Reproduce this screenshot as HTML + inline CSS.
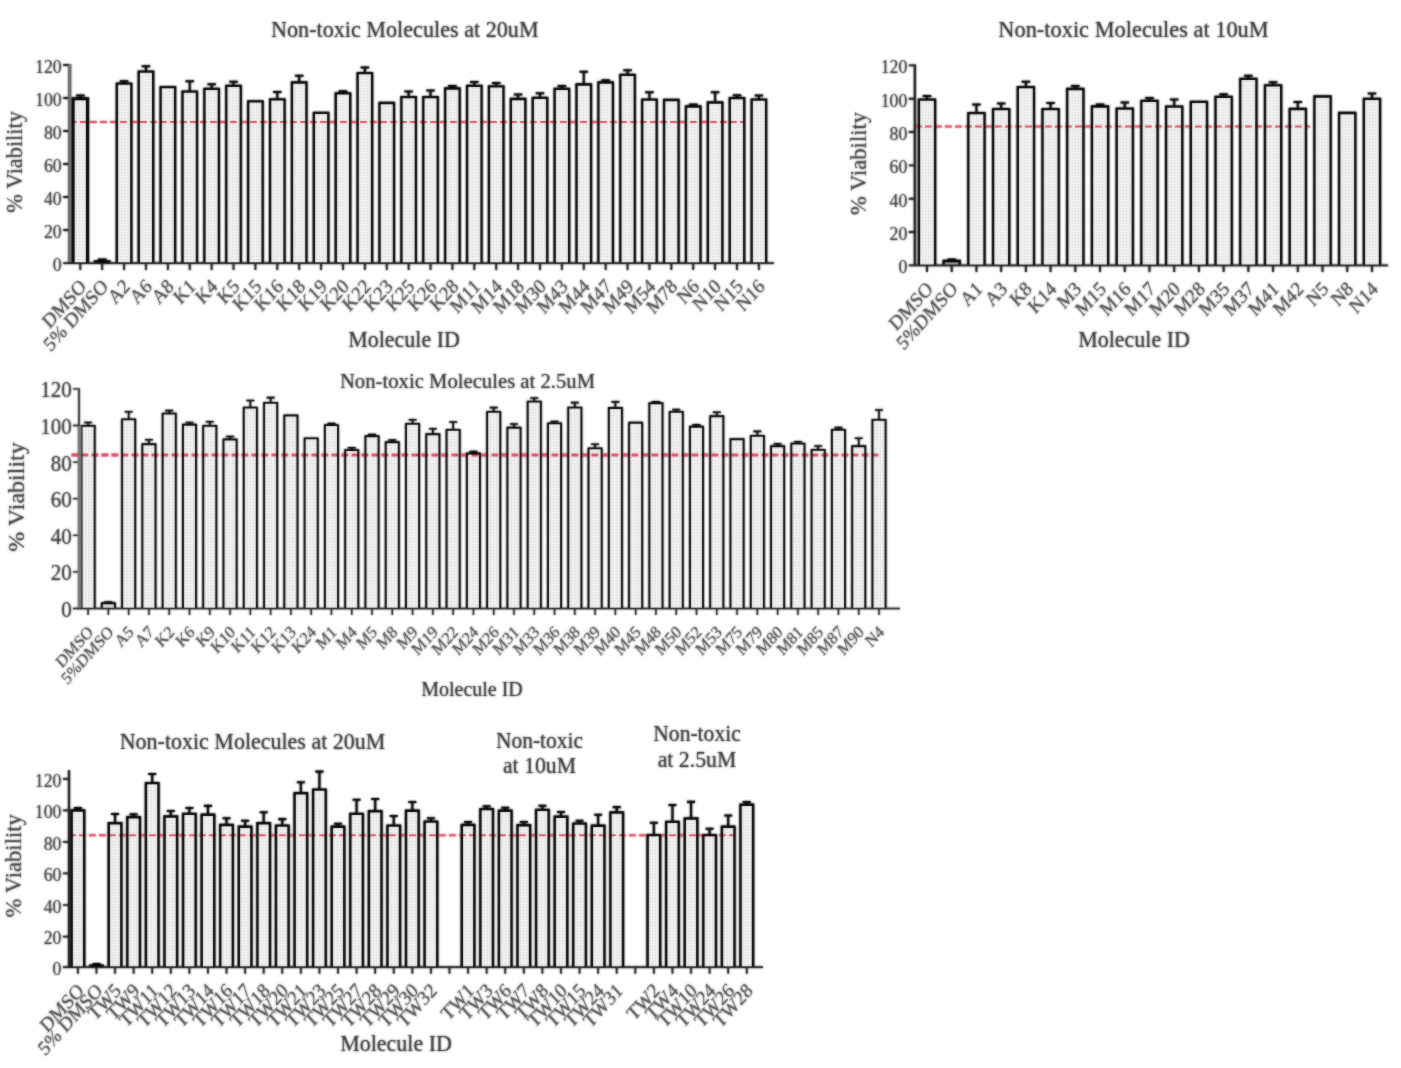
<!DOCTYPE html>
<html><head><meta charset="utf-8"><title>Non-toxic Molecules - % Viability</title>
<style>
html,body{margin:0;padding:0;background:#fff;}
body{width:1401px;height:1068px;overflow:hidden;}
svg{display:block;font-family:"Liberation Serif",serif;fill:#424242;}
</style></head><body>
<svg width="1401" height="1068" viewBox="0 0 1401 1068">
<defs>
<pattern id="dots" width="3" height="3" patternUnits="userSpaceOnUse">
<rect width="3" height="3" fill="#f1f1f1"/><rect x="1" y="1" width="1" height="1" fill="#cfcfcf"/>
</pattern>
</defs>
<rect width="1401" height="1068" fill="#fff"/>
<use href="#c" style="filter:blur(0.8px)"/>
<g opacity="0.6"><g id="c">
<g>
<path d="M80.3 98.8V95.6M76.05 95.6H84.55" stroke="#000" stroke-width="2" fill="none"/>
<path d="M73.1 263.1V98.8H87.5V263.1" fill="url(#dots)"/>
<path d="M102.19 261.3V259.5M97.94 259.5H106.44" stroke="#000" stroke-width="2" fill="none"/>
<path d="M94.99 263.1V261.3H109.39V263.1" fill="#111"/>
<path d="M124.08 83.7V81.2M119.83 81.2H128.33" stroke="#000" stroke-width="2" fill="none"/>
<path d="M116.88 263.1V83.7H131.28V263.1" fill="url(#dots)"/>
<path d="M145.97 71.7V66.3M141.72 66.3H150.22" stroke="#000" stroke-width="2" fill="none"/>
<path d="M138.77 263.1V71.7H153.17V263.1" fill="url(#dots)"/>
<path d="M160.66 263.1V87.1H175.06V263.1" fill="url(#dots)"/>
<path d="M189.75 91.6V81.2M185.5 81.2H194" stroke="#000" stroke-width="2" fill="none"/>
<path d="M182.55 263.1V91.6H196.95V263.1" fill="url(#dots)"/>
<path d="M211.64 88.8V84.3M207.39 84.3H215.89" stroke="#000" stroke-width="2" fill="none"/>
<path d="M204.44 263.1V88.8H218.84V263.1" fill="url(#dots)"/>
<path d="M233.53 85.9V81.7M229.28 81.7H237.78" stroke="#000" stroke-width="2" fill="none"/>
<path d="M226.33 263.1V85.9H240.73V263.1" fill="url(#dots)"/>
<path d="M248.22 263.1V101.3H262.62V263.1" fill="url(#dots)"/>
<path d="M277.31 99.3V92M273.06 92H281.56" stroke="#000" stroke-width="2" fill="none"/>
<path d="M270.11 263.1V99.3H284.51V263.1" fill="url(#dots)"/>
<path d="M299.2 82.5V75.8M294.95 75.8H303.45" stroke="#000" stroke-width="2" fill="none"/>
<path d="M292 263.1V82.5H306.4V263.1" fill="url(#dots)"/>
<path d="M313.89 263.1V112.8H328.29V263.1" fill="url(#dots)"/>
<path d="M342.98 93.3V91.3M338.73 91.3H347.23" stroke="#000" stroke-width="2" fill="none"/>
<path d="M335.78 263.1V93.3H350.18V263.1" fill="url(#dots)"/>
<path d="M364.87 73.1V67.6M360.62 67.6H369.12" stroke="#000" stroke-width="2" fill="none"/>
<path d="M357.67 263.1V73.1H372.07V263.1" fill="url(#dots)"/>
<path d="M379.56 263.1V103H393.96V263.1" fill="url(#dots)"/>
<path d="M408.65 97.1V91.6M404.4 91.6H412.9" stroke="#000" stroke-width="2" fill="none"/>
<path d="M401.45 263.1V97.1H415.85V263.1" fill="url(#dots)"/>
<path d="M430.54 97.1V90.6M426.29 90.6H434.79" stroke="#000" stroke-width="2" fill="none"/>
<path d="M423.34 263.1V97.1H437.74V263.1" fill="url(#dots)"/>
<path d="M452.43 88.5V85.9M448.18 85.9H456.68" stroke="#000" stroke-width="2" fill="none"/>
<path d="M445.23 263.1V88.5H459.63V263.1" fill="url(#dots)"/>
<path d="M474.32 85.9V82M470.07 82H478.57" stroke="#000" stroke-width="2" fill="none"/>
<path d="M467.12 263.1V85.9H481.52V263.1" fill="url(#dots)"/>
<path d="M496.21 86.3V82.9M491.96 82.9H500.46" stroke="#000" stroke-width="2" fill="none"/>
<path d="M489.01 263.1V86.3H503.41V263.1" fill="url(#dots)"/>
<path d="M518.1 99V94.5M513.85 94.5H522.35" stroke="#000" stroke-width="2" fill="none"/>
<path d="M510.9 263.1V99H525.3V263.1" fill="url(#dots)"/>
<path d="M539.99 97.9V93.2M535.74 93.2H544.24" stroke="#000" stroke-width="2" fill="none"/>
<path d="M532.79 263.1V97.9H547.19V263.1" fill="url(#dots)"/>
<path d="M561.88 88.8V86M557.63 86H566.13" stroke="#000" stroke-width="2" fill="none"/>
<path d="M554.68 263.1V88.8H569.08V263.1" fill="url(#dots)"/>
<path d="M583.77 84.5V71.8M579.52 71.8H588.02" stroke="#000" stroke-width="2" fill="none"/>
<path d="M576.57 263.1V84.5H590.97V263.1" fill="url(#dots)"/>
<path d="M605.66 82.5V80.2M601.41 80.2H609.91" stroke="#000" stroke-width="2" fill="none"/>
<path d="M598.46 263.1V82.5H612.86V263.1" fill="url(#dots)"/>
<path d="M627.55 74.8V70.2M623.3 70.2H631.8" stroke="#000" stroke-width="2" fill="none"/>
<path d="M620.35 263.1V74.8H634.75V263.1" fill="url(#dots)"/>
<path d="M649.44 99.6V92.3M645.19 92.3H653.69" stroke="#000" stroke-width="2" fill="none"/>
<path d="M642.24 263.1V99.6H656.64V263.1" fill="url(#dots)"/>
<path d="M664.13 263.1V100H678.53V263.1" fill="url(#dots)"/>
<path d="M693.22 106.5V104.5M688.97 104.5H697.47" stroke="#000" stroke-width="2" fill="none"/>
<path d="M686.02 263.1V106.5H700.42V263.1" fill="url(#dots)"/>
<path d="M715.11 102.5V92.3M710.86 92.3H719.36" stroke="#000" stroke-width="2" fill="none"/>
<path d="M707.91 263.1V102.5H722.31V263.1" fill="url(#dots)"/>
<path d="M737 98.1V95.3M732.75 95.3H741.25" stroke="#000" stroke-width="2" fill="none"/>
<path d="M729.8 263.1V98.1H744.2V263.1" fill="url(#dots)"/>
<path d="M758.89 99.6V95.4M754.64 95.4H763.14" stroke="#000" stroke-width="2" fill="none"/>
<path d="M751.69 263.1V99.6H766.09V263.1" fill="url(#dots)"/>
<line x1="70" x2="743" y1="122" y2="122" stroke="#e23c55" stroke-opacity="0.92" stroke-width="1.9" stroke-dasharray="6.8 3.2"/>
<path d="M73.1 263.1V98.8H87.5V263.1" fill="none" stroke="#000" stroke-width="3.1"/>
<path d="M94.99 263.1V261.3H109.39V263.1" fill="none" stroke="#000" stroke-width="2.3"/>
<path d="M116.88 263.1V83.7H131.28V263.1" fill="none" stroke="#000" stroke-width="2.3"/>
<path d="M138.77 263.1V71.7H153.17V263.1" fill="none" stroke="#000" stroke-width="2.3"/>
<path d="M160.66 263.1V87.1H175.06V263.1" fill="none" stroke="#000" stroke-width="2.3"/>
<path d="M182.55 263.1V91.6H196.95V263.1" fill="none" stroke="#000" stroke-width="2.3"/>
<path d="M204.44 263.1V88.8H218.84V263.1" fill="none" stroke="#000" stroke-width="2.3"/>
<path d="M226.33 263.1V85.9H240.73V263.1" fill="none" stroke="#000" stroke-width="2.3"/>
<path d="M248.22 263.1V101.3H262.62V263.1" fill="none" stroke="#000" stroke-width="2.3"/>
<path d="M270.11 263.1V99.3H284.51V263.1" fill="none" stroke="#000" stroke-width="2.3"/>
<path d="M292 263.1V82.5H306.4V263.1" fill="none" stroke="#000" stroke-width="2.3"/>
<path d="M313.89 263.1V112.8H328.29V263.1" fill="none" stroke="#000" stroke-width="2.3"/>
<path d="M335.78 263.1V93.3H350.18V263.1" fill="none" stroke="#000" stroke-width="2.3"/>
<path d="M357.67 263.1V73.1H372.07V263.1" fill="none" stroke="#000" stroke-width="2.3"/>
<path d="M379.56 263.1V103H393.96V263.1" fill="none" stroke="#000" stroke-width="2.3"/>
<path d="M401.45 263.1V97.1H415.85V263.1" fill="none" stroke="#000" stroke-width="2.3"/>
<path d="M423.34 263.1V97.1H437.74V263.1" fill="none" stroke="#000" stroke-width="2.3"/>
<path d="M445.23 263.1V88.5H459.63V263.1" fill="none" stroke="#000" stroke-width="2.3"/>
<path d="M467.12 263.1V85.9H481.52V263.1" fill="none" stroke="#000" stroke-width="2.3"/>
<path d="M489.01 263.1V86.3H503.41V263.1" fill="none" stroke="#000" stroke-width="2.3"/>
<path d="M510.9 263.1V99H525.3V263.1" fill="none" stroke="#000" stroke-width="2.3"/>
<path d="M532.79 263.1V97.9H547.19V263.1" fill="none" stroke="#000" stroke-width="2.3"/>
<path d="M554.68 263.1V88.8H569.08V263.1" fill="none" stroke="#000" stroke-width="2.3"/>
<path d="M576.57 263.1V84.5H590.97V263.1" fill="none" stroke="#000" stroke-width="2.3"/>
<path d="M598.46 263.1V82.5H612.86V263.1" fill="none" stroke="#000" stroke-width="2.3"/>
<path d="M620.35 263.1V74.8H634.75V263.1" fill="none" stroke="#000" stroke-width="2.3"/>
<path d="M642.24 263.1V99.6H656.64V263.1" fill="none" stroke="#000" stroke-width="2.3"/>
<path d="M664.13 263.1V100H678.53V263.1" fill="none" stroke="#000" stroke-width="2.3"/>
<path d="M686.02 263.1V106.5H700.42V263.1" fill="none" stroke="#000" stroke-width="2.3"/>
<path d="M707.91 263.1V102.5H722.31V263.1" fill="none" stroke="#000" stroke-width="2.3"/>
<path d="M729.8 263.1V98.1H744.2V263.1" fill="none" stroke="#000" stroke-width="2.3"/>
<path d="M751.69 263.1V99.6H766.09V263.1" fill="none" stroke="#000" stroke-width="2.3"/>
<path d="M69.65 64.1V263.1" stroke="#6b6b6b" stroke-width="3.3" fill="none"/>
<path d="M63.25 230.1H68.2M63.25 197.1H68.2M63.25 164.1H68.2M63.25 131.1H68.2M63.25 98.1H68.2M63.25 65.1H68.2" stroke="#1c1c1c" stroke-width="2" fill="none"/>
<path d="M63.25 263.1H774" stroke="#1c1c1c" stroke-width="1.8" fill="none"/>
<path d="M80.3 263.1v6.9M102.19 263.1v6.9M124.08 263.1v6.9M145.97 263.1v6.9M167.86 263.1v6.9M189.75 263.1v6.9M211.64 263.1v6.9M233.53 263.1v6.9M255.42 263.1v6.9M277.31 263.1v6.9M299.2 263.1v6.9M321.09 263.1v6.9M342.98 263.1v6.9M364.87 263.1v6.9M386.76 263.1v6.9M408.65 263.1v6.9M430.54 263.1v6.9M452.43 263.1v6.9M474.32 263.1v6.9M496.21 263.1v6.9M518.1 263.1v6.9M539.99 263.1v6.9M561.88 263.1v6.9M583.77 263.1v6.9M605.66 263.1v6.9M627.55 263.1v6.9M649.44 263.1v6.9M671.33 263.1v6.9M693.22 263.1v6.9M715.11 263.1v6.9M737 263.1v6.9M758.89 263.1v6.9" stroke="#1c1c1c" stroke-width="1.8" fill="none"/>
<text transform="translate(61.65 270.9) scale(0.9 1)" font-size="19.7" text-anchor="end">0</text>
<text transform="translate(61.65 237.9) scale(0.9 1)" font-size="19.7" text-anchor="end">20</text>
<text transform="translate(61.65 204.9) scale(0.9 1)" font-size="19.7" text-anchor="end">40</text>
<text transform="translate(61.65 171.9) scale(0.9 1)" font-size="19.7" text-anchor="end">60</text>
<text transform="translate(61.65 138.9) scale(0.9 1)" font-size="19.7" text-anchor="end">80</text>
<text transform="translate(61.65 105.9) scale(0.9 1)" font-size="19.7" text-anchor="end">100</text>
<text transform="translate(61.65 72.9) scale(0.9 1)" font-size="19.7" text-anchor="end">120</text>
<text transform="translate(87.3 287.6) scale(0.9 1) rotate(-45)" font-size="20.5" text-anchor="end" fill="#4e4e4e">DMSO</text>
<text transform="translate(109.19 287.6) scale(0.9 1) rotate(-45)" font-size="20.5" text-anchor="end" fill="#4e4e4e">5% DMSO</text>
<text transform="translate(131.08 287.6) scale(0.9 1) rotate(-45)" font-size="20.5" text-anchor="end" fill="#4e4e4e">A2</text>
<text transform="translate(152.97 287.6) scale(0.9 1) rotate(-45)" font-size="20.5" text-anchor="end" fill="#4e4e4e">A6</text>
<text transform="translate(174.86 287.6) scale(0.9 1) rotate(-45)" font-size="20.5" text-anchor="end" fill="#4e4e4e">A8</text>
<text transform="translate(196.75 287.6) scale(0.9 1) rotate(-45)" font-size="20.5" text-anchor="end" fill="#4e4e4e">K1</text>
<text transform="translate(218.64 287.6) scale(0.9 1) rotate(-45)" font-size="20.5" text-anchor="end" fill="#4e4e4e">K4</text>
<text transform="translate(240.53 287.6) scale(0.9 1) rotate(-45)" font-size="20.5" text-anchor="end" fill="#4e4e4e">K5</text>
<text transform="translate(262.42 287.6) scale(0.9 1) rotate(-45)" font-size="20.5" text-anchor="end" fill="#4e4e4e">K15</text>
<text transform="translate(284.31 287.6) scale(0.9 1) rotate(-45)" font-size="20.5" text-anchor="end" fill="#4e4e4e">K16</text>
<text transform="translate(306.2 287.6) scale(0.9 1) rotate(-45)" font-size="20.5" text-anchor="end" fill="#4e4e4e">K18</text>
<text transform="translate(328.09 287.6) scale(0.9 1) rotate(-45)" font-size="20.5" text-anchor="end" fill="#4e4e4e">K19</text>
<text transform="translate(349.98 287.6) scale(0.9 1) rotate(-45)" font-size="20.5" text-anchor="end" fill="#4e4e4e">K20</text>
<text transform="translate(371.87 287.6) scale(0.9 1) rotate(-45)" font-size="20.5" text-anchor="end" fill="#4e4e4e">K22</text>
<text transform="translate(393.76 287.6) scale(0.9 1) rotate(-45)" font-size="20.5" text-anchor="end" fill="#4e4e4e">K23</text>
<text transform="translate(415.65 287.6) scale(0.9 1) rotate(-45)" font-size="20.5" text-anchor="end" fill="#4e4e4e">K25</text>
<text transform="translate(437.54 287.6) scale(0.9 1) rotate(-45)" font-size="20.5" text-anchor="end" fill="#4e4e4e">K26</text>
<text transform="translate(459.43 287.6) scale(0.9 1) rotate(-45)" font-size="20.5" text-anchor="end" fill="#4e4e4e">K28</text>
<text transform="translate(481.32 287.6) scale(0.9 1) rotate(-45)" font-size="20.5" text-anchor="end" fill="#4e4e4e">M11</text>
<text transform="translate(503.21 287.6) scale(0.9 1) rotate(-45)" font-size="20.5" text-anchor="end" fill="#4e4e4e">M14</text>
<text transform="translate(525.1 287.6) scale(0.9 1) rotate(-45)" font-size="20.5" text-anchor="end" fill="#4e4e4e">M18</text>
<text transform="translate(546.99 287.6) scale(0.9 1) rotate(-45)" font-size="20.5" text-anchor="end" fill="#4e4e4e">M30</text>
<text transform="translate(568.88 287.6) scale(0.9 1) rotate(-45)" font-size="20.5" text-anchor="end" fill="#4e4e4e">M43</text>
<text transform="translate(590.77 287.6) scale(0.9 1) rotate(-45)" font-size="20.5" text-anchor="end" fill="#4e4e4e">M44</text>
<text transform="translate(612.66 287.6) scale(0.9 1) rotate(-45)" font-size="20.5" text-anchor="end" fill="#4e4e4e">M47</text>
<text transform="translate(634.55 287.6) scale(0.9 1) rotate(-45)" font-size="20.5" text-anchor="end" fill="#4e4e4e">M49</text>
<text transform="translate(656.44 287.6) scale(0.9 1) rotate(-45)" font-size="20.5" text-anchor="end" fill="#4e4e4e">M54</text>
<text transform="translate(678.33 287.6) scale(0.9 1) rotate(-45)" font-size="20.5" text-anchor="end" fill="#4e4e4e">M78</text>
<text transform="translate(700.22 287.6) scale(0.9 1) rotate(-45)" font-size="20.5" text-anchor="end" fill="#4e4e4e">N6</text>
<text transform="translate(722.11 287.6) scale(0.9 1) rotate(-45)" font-size="20.5" text-anchor="end" fill="#4e4e4e">N10</text>
<text transform="translate(744 287.6) scale(0.9 1) rotate(-45)" font-size="20.5" text-anchor="end" fill="#4e4e4e">N15</text>
<text transform="translate(765.89 287.6) scale(0.9 1) rotate(-45)" font-size="20.5" text-anchor="end" fill="#4e4e4e">N16</text>
<text transform="translate(22 162) rotate(-90)" font-size="22.3" text-anchor="middle">% Viability</text>
<text transform="translate(404 347.3) scale(0.97 1)" font-size="22.68" text-anchor="middle" fill="#383838">Molecule ID</text>
<text transform="translate(404.8 36.5) scale(0.97 1)" font-size="22.84" text-anchor="middle" fill="#383838">Non-toxic Molecules at 20uM</text>
</g>
<g>
<path d="M927 99.7V96M922.75 96H931.25" stroke="#000" stroke-width="2" fill="none"/>
<path d="M918.95 265.4V99.7H935.05V265.4" fill="url(#dots)"/>
<path d="M951.72 261V259.5M947.47 259.5H955.97" stroke="#000" stroke-width="2" fill="none"/>
<path d="M943.67 265.4V261H959.77V265.4" fill="#9a9a9a"/>
<path d="M976.44 113.1V104.5M972.19 104.5H980.69" stroke="#000" stroke-width="2" fill="none"/>
<path d="M968.39 265.4V113.1H984.49V265.4" fill="url(#dots)"/>
<path d="M1001.16 109.1V103.5M996.91 103.5H1005.41" stroke="#000" stroke-width="2" fill="none"/>
<path d="M993.11 265.4V109.1H1009.21V265.4" fill="url(#dots)"/>
<path d="M1025.88 87.1V81.7M1021.63 81.7H1030.13" stroke="#000" stroke-width="2" fill="none"/>
<path d="M1017.83 265.4V87.1H1033.93V265.4" fill="url(#dots)"/>
<path d="M1050.6 109.1V102.9M1046.35 102.9H1054.85" stroke="#000" stroke-width="2" fill="none"/>
<path d="M1042.55 265.4V109.1H1058.65V265.4" fill="url(#dots)"/>
<path d="M1075.32 89V86M1071.07 86H1079.57" stroke="#000" stroke-width="2" fill="none"/>
<path d="M1067.27 265.4V89H1083.37V265.4" fill="url(#dots)"/>
<path d="M1100.04 106.5V104.5M1095.79 104.5H1104.29" stroke="#000" stroke-width="2" fill="none"/>
<path d="M1091.99 265.4V106.5H1108.09V265.4" fill="url(#dots)"/>
<path d="M1124.76 108.6V102.6M1120.51 102.6H1129.01" stroke="#000" stroke-width="2" fill="none"/>
<path d="M1116.71 265.4V108.6H1132.81V265.4" fill="url(#dots)"/>
<path d="M1149.48 100.9V98.1M1145.23 98.1H1153.73" stroke="#000" stroke-width="2" fill="none"/>
<path d="M1141.43 265.4V100.9H1157.53V265.4" fill="url(#dots)"/>
<path d="M1174.2 106.6V99.5M1169.95 99.5H1178.45" stroke="#000" stroke-width="2" fill="none"/>
<path d="M1166.15 265.4V106.6H1182.25V265.4" fill="url(#dots)"/>
<path d="M1190.87 265.4V101.9H1206.97V265.4" fill="url(#dots)"/>
<path d="M1223.64 96.9V94.3M1219.39 94.3H1227.89" stroke="#000" stroke-width="2" fill="none"/>
<path d="M1215.59 265.4V96.9H1231.69V265.4" fill="url(#dots)"/>
<path d="M1248.36 78.9V75.7M1244.11 75.7H1252.61" stroke="#000" stroke-width="2" fill="none"/>
<path d="M1240.31 265.4V78.9H1256.41V265.4" fill="url(#dots)"/>
<path d="M1273.08 85.3V82.3M1268.83 82.3H1277.33" stroke="#000" stroke-width="2" fill="none"/>
<path d="M1265.03 265.4V85.3H1281.13V265.4" fill="url(#dots)"/>
<path d="M1297.8 109V102.1M1293.55 102.1H1302.05" stroke="#000" stroke-width="2" fill="none"/>
<path d="M1289.75 265.4V109H1305.85V265.4" fill="url(#dots)"/>
<path d="M1314.47 265.4V96.5H1330.57V265.4" fill="url(#dots)"/>
<path d="M1339.19 265.4V113H1355.29V265.4" fill="url(#dots)"/>
<path d="M1371.96 98.9V93.5M1367.71 93.5H1376.21" stroke="#000" stroke-width="2" fill="none"/>
<path d="M1363.91 265.4V98.9H1380.01V265.4" fill="url(#dots)"/>
<line x1="915" x2="1310" y1="126.5" y2="126.5" stroke="#e23c55" stroke-opacity="0.92" stroke-width="1.9" stroke-dasharray="6.8 3.2"/>
<path d="M918.95 265.4V99.7H935.05V265.4" fill="none" stroke="#000" stroke-width="2.3"/>
<path d="M943.67 265.4V261H959.77V265.4" fill="none" stroke="#000" stroke-width="2.3"/>
<path d="M968.39 265.4V113.1H984.49V265.4" fill="none" stroke="#000" stroke-width="2.3"/>
<path d="M993.11 265.4V109.1H1009.21V265.4" fill="none" stroke="#000" stroke-width="2.3"/>
<path d="M1017.83 265.4V87.1H1033.93V265.4" fill="none" stroke="#000" stroke-width="2.3"/>
<path d="M1042.55 265.4V109.1H1058.65V265.4" fill="none" stroke="#000" stroke-width="2.3"/>
<path d="M1067.27 265.4V89H1083.37V265.4" fill="none" stroke="#000" stroke-width="2.3"/>
<path d="M1091.99 265.4V106.5H1108.09V265.4" fill="none" stroke="#000" stroke-width="2.3"/>
<path d="M1116.71 265.4V108.6H1132.81V265.4" fill="none" stroke="#000" stroke-width="2.3"/>
<path d="M1141.43 265.4V100.9H1157.53V265.4" fill="none" stroke="#000" stroke-width="2.3"/>
<path d="M1166.15 265.4V106.6H1182.25V265.4" fill="none" stroke="#000" stroke-width="2.3"/>
<path d="M1190.87 265.4V101.9H1206.97V265.4" fill="none" stroke="#000" stroke-width="2.3"/>
<path d="M1215.59 265.4V96.9H1231.69V265.4" fill="none" stroke="#000" stroke-width="2.3"/>
<path d="M1240.31 265.4V78.9H1256.41V265.4" fill="none" stroke="#000" stroke-width="2.3"/>
<path d="M1265.03 265.4V85.3H1281.13V265.4" fill="none" stroke="#000" stroke-width="2.3"/>
<path d="M1289.75 265.4V109H1305.85V265.4" fill="none" stroke="#000" stroke-width="2.3"/>
<path d="M1314.47 265.4V96.5H1330.57V265.4" fill="none" stroke="#000" stroke-width="2.3"/>
<path d="M1339.19 265.4V113H1355.29V265.4" fill="none" stroke="#000" stroke-width="2.3"/>
<path d="M1363.91 265.4V98.9H1380.01V265.4" fill="none" stroke="#000" stroke-width="2.3"/>
<path d="M914.9 64.41V265.4" stroke="#1c1c1c" stroke-width="2.2" fill="none"/>
<path d="M908.9 232.06H914M908.9 198.72H914M908.9 165.38H914M908.9 132.04H914M908.9 98.7H914M908.9 65.36H914" stroke="#1c1c1c" stroke-width="1.9" fill="none"/>
<path d="M908.9 265.4H1388" stroke="#1c1c1c" stroke-width="1.9" fill="none"/>
<path d="M927 265.4v6.5M951.72 265.4v6.5M976.44 265.4v6.5M1001.16 265.4v6.5M1025.88 265.4v6.5M1050.6 265.4v6.5M1075.32 265.4v6.5M1100.04 265.4v6.5M1124.76 265.4v6.5M1149.48 265.4v6.5M1174.2 265.4v6.5M1198.92 265.4v6.5M1223.64 265.4v6.5M1248.36 265.4v6.5M1273.08 265.4v6.5M1297.8 265.4v6.5M1322.52 265.4v6.5M1347.24 265.4v6.5M1371.96 265.4v6.5" stroke="#1c1c1c" stroke-width="1.9" fill="none"/>
<text transform="translate(907.3 273.2) scale(0.9 1)" font-size="19.7" text-anchor="end">0</text>
<text transform="translate(907.3 239.86) scale(0.9 1)" font-size="19.7" text-anchor="end">20</text>
<text transform="translate(907.3 206.52) scale(0.9 1)" font-size="19.7" text-anchor="end">40</text>
<text transform="translate(907.3 173.18) scale(0.9 1)" font-size="19.7" text-anchor="end">60</text>
<text transform="translate(907.3 139.84) scale(0.9 1)" font-size="19.7" text-anchor="end">80</text>
<text transform="translate(907.3 106.5) scale(0.9 1)" font-size="19.7" text-anchor="end">100</text>
<text transform="translate(907.3 73.16) scale(0.9 1)" font-size="19.7" text-anchor="end">120</text>
<text transform="translate(934 289.9) scale(0.9 1) rotate(-45)" font-size="20.5" text-anchor="end" fill="#4e4e4e">DMSO</text>
<text transform="translate(958.72 289.9) scale(0.9 1) rotate(-45)" font-size="20.5" text-anchor="end" fill="#4e4e4e">5%DMSO</text>
<text transform="translate(983.44 289.9) scale(0.9 1) rotate(-45)" font-size="20.5" text-anchor="end" fill="#4e4e4e">A1</text>
<text transform="translate(1008.16 289.9) scale(0.9 1) rotate(-45)" font-size="20.5" text-anchor="end" fill="#4e4e4e">A3</text>
<text transform="translate(1032.88 289.9) scale(0.9 1) rotate(-45)" font-size="20.5" text-anchor="end" fill="#4e4e4e">K8</text>
<text transform="translate(1057.6 289.9) scale(0.9 1) rotate(-45)" font-size="20.5" text-anchor="end" fill="#4e4e4e">K14</text>
<text transform="translate(1082.32 289.9) scale(0.9 1) rotate(-45)" font-size="20.5" text-anchor="end" fill="#4e4e4e">M3</text>
<text transform="translate(1107.04 289.9) scale(0.9 1) rotate(-45)" font-size="20.5" text-anchor="end" fill="#4e4e4e">M15</text>
<text transform="translate(1131.76 289.9) scale(0.9 1) rotate(-45)" font-size="20.5" text-anchor="end" fill="#4e4e4e">M16</text>
<text transform="translate(1156.48 289.9) scale(0.9 1) rotate(-45)" font-size="20.5" text-anchor="end" fill="#4e4e4e">M17</text>
<text transform="translate(1181.2 289.9) scale(0.9 1) rotate(-45)" font-size="20.5" text-anchor="end" fill="#4e4e4e">M20</text>
<text transform="translate(1205.92 289.9) scale(0.9 1) rotate(-45)" font-size="20.5" text-anchor="end" fill="#4e4e4e">M28</text>
<text transform="translate(1230.64 289.9) scale(0.9 1) rotate(-45)" font-size="20.5" text-anchor="end" fill="#4e4e4e">M35</text>
<text transform="translate(1255.36 289.9) scale(0.9 1) rotate(-45)" font-size="20.5" text-anchor="end" fill="#4e4e4e">M37</text>
<text transform="translate(1280.08 289.9) scale(0.9 1) rotate(-45)" font-size="20.5" text-anchor="end" fill="#4e4e4e">M41</text>
<text transform="translate(1304.8 289.9) scale(0.9 1) rotate(-45)" font-size="20.5" text-anchor="end" fill="#4e4e4e">M42</text>
<text transform="translate(1329.52 289.9) scale(0.9 1) rotate(-45)" font-size="20.5" text-anchor="end" fill="#4e4e4e">N5</text>
<text transform="translate(1354.24 289.9) scale(0.9 1) rotate(-45)" font-size="20.5" text-anchor="end" fill="#4e4e4e">N8</text>
<text transform="translate(1378.96 289.9) scale(0.9 1) rotate(-45)" font-size="20.5" text-anchor="end" fill="#4e4e4e">N14</text>
<text transform="translate(866 163.5) rotate(-90)" font-size="22.6" text-anchor="middle">% Viability</text>
<text transform="translate(1134 347.3) scale(0.97 1)" font-size="22.68" text-anchor="middle" fill="#383838">Molecule ID</text>
<text transform="translate(1133.5 36.5) scale(0.97 1)" font-size="23.09" text-anchor="middle" fill="#383838">Non-toxic Molecules at 10uM</text>
</g>
<g>
<path d="M88.1 425.9V422.5M84.1 422.5H92.1" stroke="#000" stroke-width="1.6" fill="none"/>
<path d="M81.6 608.5V425.9H94.6V608.5" fill="url(#dots)"/>
<path d="M108.38 603.2V602M104.38 602H112.38" stroke="#000" stroke-width="1.6" fill="none"/>
<path d="M101.88 608.5V603.2H114.88V608.5" fill="#d8d8d8"/>
<path d="M128.66 419.4V411.7M124.66 411.7H132.66" stroke="#000" stroke-width="1.6" fill="none"/>
<path d="M122.16 608.5V419.4H135.16V608.5" fill="url(#dots)"/>
<path d="M148.94 444.2V439.7M144.94 439.7H152.94" stroke="#000" stroke-width="1.6" fill="none"/>
<path d="M142.44 608.5V444.2H155.44V608.5" fill="url(#dots)"/>
<path d="M169.22 413.6V410.6M165.22 410.6H173.22" stroke="#000" stroke-width="1.6" fill="none"/>
<path d="M162.72 608.5V413.6H175.72V608.5" fill="url(#dots)"/>
<path d="M189.5 424.8V422.5M185.5 422.5H193.5" stroke="#000" stroke-width="1.6" fill="none"/>
<path d="M183 608.5V424.8H196V608.5" fill="url(#dots)"/>
<path d="M209.78 425.9V421.8M205.78 421.8H213.78" stroke="#000" stroke-width="1.6" fill="none"/>
<path d="M203.28 608.5V425.9H216.28V608.5" fill="url(#dots)"/>
<path d="M230.06 439.5V436.5M226.06 436.5H234.06" stroke="#000" stroke-width="1.6" fill="none"/>
<path d="M223.56 608.5V439.5H236.56V608.5" fill="url(#dots)"/>
<path d="M250.34 407.6V400.5M246.34 400.5H254.34" stroke="#000" stroke-width="1.6" fill="none"/>
<path d="M243.84 608.5V407.6H256.84V608.5" fill="url(#dots)"/>
<path d="M270.62 402.9V397.6M266.62 397.6H274.62" stroke="#000" stroke-width="1.6" fill="none"/>
<path d="M264.12 608.5V402.9H277.12V608.5" fill="url(#dots)"/>
<path d="M284.4 608.5V415.5H297.4V608.5" fill="url(#dots)"/>
<path d="M304.68 608.5V438.4H317.68V608.5" fill="url(#dots)"/>
<path d="M331.46 425.1V423.6M327.46 423.6H335.46" stroke="#000" stroke-width="1.6" fill="none"/>
<path d="M324.96 608.5V425.1H337.96V608.5" fill="url(#dots)"/>
<path d="M351.74 450.1V447.7M347.74 447.7H355.74" stroke="#000" stroke-width="1.6" fill="none"/>
<path d="M345.24 608.5V450.1H358.24V608.5" fill="url(#dots)"/>
<path d="M372.02 436.2V434.6M368.02 434.6H376.02" stroke="#000" stroke-width="1.6" fill="none"/>
<path d="M365.52 608.5V436.2H378.52V608.5" fill="url(#dots)"/>
<path d="M392.3 442.2V440M388.3 440H396.3" stroke="#000" stroke-width="1.6" fill="none"/>
<path d="M385.8 608.5V442.2H398.8V608.5" fill="url(#dots)"/>
<path d="M412.58 423.9V419.7M408.58 419.7H416.58" stroke="#000" stroke-width="1.6" fill="none"/>
<path d="M406.08 608.5V423.9H419.08V608.5" fill="url(#dots)"/>
<path d="M432.86 434.2V428.8M428.86 428.8H436.86" stroke="#000" stroke-width="1.6" fill="none"/>
<path d="M426.36 608.5V434.2H439.36V608.5" fill="url(#dots)"/>
<path d="M453.14 429.9V422M449.14 422H457.14" stroke="#000" stroke-width="1.6" fill="none"/>
<path d="M446.64 608.5V429.9H459.64V608.5" fill="url(#dots)"/>
<path d="M473.42 453.5V451.6M469.42 451.6H477.42" stroke="#000" stroke-width="1.6" fill="none"/>
<path d="M466.92 608.5V453.5H479.92V608.5" fill="url(#dots)"/>
<path d="M493.7 411.9V407.6M489.7 407.6H497.7" stroke="#000" stroke-width="1.6" fill="none"/>
<path d="M487.2 608.5V411.9H500.2V608.5" fill="url(#dots)"/>
<path d="M513.98 427.7V424M509.98 424H517.98" stroke="#000" stroke-width="1.6" fill="none"/>
<path d="M507.48 608.5V427.7H520.48V608.5" fill="url(#dots)"/>
<path d="M534.26 401.6V398M530.26 398H538.26" stroke="#000" stroke-width="1.6" fill="none"/>
<path d="M527.76 608.5V401.6H540.76V608.5" fill="url(#dots)"/>
<path d="M554.54 423.4V421.5M550.54 421.5H558.54" stroke="#000" stroke-width="1.6" fill="none"/>
<path d="M548.04 608.5V423.4H561.04V608.5" fill="url(#dots)"/>
<path d="M574.82 407.6V402.6M570.82 402.6H578.82" stroke="#000" stroke-width="1.6" fill="none"/>
<path d="M568.32 608.5V407.6H581.32V608.5" fill="url(#dots)"/>
<path d="M595.1 448.4V444.2M591.1 444.2H599.1" stroke="#000" stroke-width="1.6" fill="none"/>
<path d="M588.6 608.5V448.4H601.6V608.5" fill="url(#dots)"/>
<path d="M615.38 408V401.9M611.38 401.9H619.38" stroke="#000" stroke-width="1.6" fill="none"/>
<path d="M608.88 608.5V408H621.88V608.5" fill="url(#dots)"/>
<path d="M629.16 608.5V422.7H642.16V608.5" fill="url(#dots)"/>
<path d="M655.94 403.3V401.7M651.94 401.7H659.94" stroke="#000" stroke-width="1.6" fill="none"/>
<path d="M649.44 608.5V403.3H662.44V608.5" fill="url(#dots)"/>
<path d="M676.22 411.9V409.5M672.22 409.5H680.22" stroke="#000" stroke-width="1.6" fill="none"/>
<path d="M669.72 608.5V411.9H682.72V608.5" fill="url(#dots)"/>
<path d="M696.5 426.8V424.9M692.5 424.9H700.5" stroke="#000" stroke-width="1.6" fill="none"/>
<path d="M690 608.5V426.8H703V608.5" fill="url(#dots)"/>
<path d="M716.78 416.2V412.3M712.78 412.3H720.78" stroke="#000" stroke-width="1.6" fill="none"/>
<path d="M710.28 608.5V416.2H723.28V608.5" fill="url(#dots)"/>
<path d="M730.56 608.5V439.3H743.56V608.5" fill="url(#dots)"/>
<path d="M757.34 435.9V431.4M753.34 431.4H761.34" stroke="#000" stroke-width="1.6" fill="none"/>
<path d="M750.84 608.5V435.9H763.84V608.5" fill="url(#dots)"/>
<path d="M777.62 446.2V443.7M773.62 443.7H781.62" stroke="#000" stroke-width="1.6" fill="none"/>
<path d="M771.12 608.5V446.2H784.12V608.5" fill="url(#dots)"/>
<path d="M797.9 443.6V441.7M793.9 441.7H801.9" stroke="#000" stroke-width="1.6" fill="none"/>
<path d="M791.4 608.5V443.6H804.4V608.5" fill="url(#dots)"/>
<path d="M818.18 449.9V446M814.18 446H822.18" stroke="#000" stroke-width="1.6" fill="none"/>
<path d="M811.68 608.5V449.9H824.68V608.5" fill="url(#dots)"/>
<path d="M838.46 429.9V427.6M834.46 427.6H842.46" stroke="#000" stroke-width="1.6" fill="none"/>
<path d="M831.96 608.5V429.9H844.96V608.5" fill="url(#dots)"/>
<path d="M858.74 446.2V438.2M854.74 438.2H862.74" stroke="#000" stroke-width="1.6" fill="none"/>
<path d="M852.24 608.5V446.2H865.24V608.5" fill="url(#dots)"/>
<path d="M879.02 419.9V410M875.02 410H883.02" stroke="#000" stroke-width="1.6" fill="none"/>
<path d="M872.52 608.5V419.9H885.52V608.5" fill="url(#dots)"/>
<line x1="71.5" x2="880" y1="455" y2="455" stroke="#e23c55" stroke-opacity="0.92" stroke-width="3.0" stroke-dasharray="6.8 3.2"/>
<path d="M81.6 608.5V425.9H94.6V608.5" fill="none" stroke="#000" stroke-width="1.9"/>
<path d="M101.88 608.5V603.2H114.88V608.5" fill="none" stroke="#000" stroke-width="1.9"/>
<path d="M122.16 608.5V419.4H135.16V608.5" fill="none" stroke="#000" stroke-width="1.9"/>
<path d="M142.44 608.5V444.2H155.44V608.5" fill="none" stroke="#000" stroke-width="1.9"/>
<path d="M162.72 608.5V413.6H175.72V608.5" fill="none" stroke="#000" stroke-width="1.9"/>
<path d="M183 608.5V424.8H196V608.5" fill="none" stroke="#000" stroke-width="1.9"/>
<path d="M203.28 608.5V425.9H216.28V608.5" fill="none" stroke="#000" stroke-width="1.9"/>
<path d="M223.56 608.5V439.5H236.56V608.5" fill="none" stroke="#000" stroke-width="1.9"/>
<path d="M243.84 608.5V407.6H256.84V608.5" fill="none" stroke="#000" stroke-width="1.9"/>
<path d="M264.12 608.5V402.9H277.12V608.5" fill="none" stroke="#000" stroke-width="1.9"/>
<path d="M284.4 608.5V415.5H297.4V608.5" fill="none" stroke="#000" stroke-width="1.9"/>
<path d="M304.68 608.5V438.4H317.68V608.5" fill="none" stroke="#000" stroke-width="1.9"/>
<path d="M324.96 608.5V425.1H337.96V608.5" fill="none" stroke="#000" stroke-width="1.9"/>
<path d="M345.24 608.5V450.1H358.24V608.5" fill="none" stroke="#000" stroke-width="1.9"/>
<path d="M365.52 608.5V436.2H378.52V608.5" fill="none" stroke="#000" stroke-width="1.9"/>
<path d="M385.8 608.5V442.2H398.8V608.5" fill="none" stroke="#000" stroke-width="1.9"/>
<path d="M406.08 608.5V423.9H419.08V608.5" fill="none" stroke="#000" stroke-width="1.9"/>
<path d="M426.36 608.5V434.2H439.36V608.5" fill="none" stroke="#000" stroke-width="1.9"/>
<path d="M446.64 608.5V429.9H459.64V608.5" fill="none" stroke="#000" stroke-width="1.9"/>
<path d="M466.92 608.5V453.5H479.92V608.5" fill="none" stroke="#000" stroke-width="1.9"/>
<path d="M487.2 608.5V411.9H500.2V608.5" fill="none" stroke="#000" stroke-width="1.9"/>
<path d="M507.48 608.5V427.7H520.48V608.5" fill="none" stroke="#000" stroke-width="1.9"/>
<path d="M527.76 608.5V401.6H540.76V608.5" fill="none" stroke="#000" stroke-width="1.9"/>
<path d="M548.04 608.5V423.4H561.04V608.5" fill="none" stroke="#000" stroke-width="1.9"/>
<path d="M568.32 608.5V407.6H581.32V608.5" fill="none" stroke="#000" stroke-width="1.9"/>
<path d="M588.6 608.5V448.4H601.6V608.5" fill="none" stroke="#000" stroke-width="1.9"/>
<path d="M608.88 608.5V408H621.88V608.5" fill="none" stroke="#000" stroke-width="1.9"/>
<path d="M629.16 608.5V422.7H642.16V608.5" fill="none" stroke="#000" stroke-width="1.9"/>
<path d="M649.44 608.5V403.3H662.44V608.5" fill="none" stroke="#000" stroke-width="1.9"/>
<path d="M669.72 608.5V411.9H682.72V608.5" fill="none" stroke="#000" stroke-width="1.9"/>
<path d="M690 608.5V426.8H703V608.5" fill="none" stroke="#000" stroke-width="1.9"/>
<path d="M710.28 608.5V416.2H723.28V608.5" fill="none" stroke="#000" stroke-width="1.9"/>
<path d="M730.56 608.5V439.3H743.56V608.5" fill="none" stroke="#000" stroke-width="1.9"/>
<path d="M750.84 608.5V435.9H763.84V608.5" fill="none" stroke="#000" stroke-width="1.9"/>
<path d="M771.12 608.5V446.2H784.12V608.5" fill="none" stroke="#000" stroke-width="1.9"/>
<path d="M791.4 608.5V443.6H804.4V608.5" fill="none" stroke="#000" stroke-width="1.9"/>
<path d="M811.68 608.5V449.9H824.68V608.5" fill="none" stroke="#000" stroke-width="1.9"/>
<path d="M831.96 608.5V429.9H844.96V608.5" fill="none" stroke="#000" stroke-width="1.9"/>
<path d="M852.24 608.5V446.2H865.24V608.5" fill="none" stroke="#000" stroke-width="1.9"/>
<path d="M872.52 608.5V419.9H885.52V608.5" fill="none" stroke="#000" stroke-width="1.9"/>
<path d="M79 388.25V608.5" stroke="#1c1c1c" stroke-width="1.5" fill="none"/>
<path d="M73 571.9H78.45M73 535.3H78.45M73 498.7H78.45M73 462.1H78.45M73 425.5H78.45M73 388.9H78.45" stroke="#1c1c1c" stroke-width="1.3" fill="none"/>
<rect x="77.8" y="425.9" width="3.8" height="182.6" fill="#777"/>
<path d="M73 608.5H900" stroke="#1c1c1c" stroke-width="1.4" fill="none"/>
<path d="M88.1 608.5v6.5M108.38 608.5v6.5M128.66 608.5v6.5M148.94 608.5v6.5M169.22 608.5v6.5M189.5 608.5v6.5M209.78 608.5v6.5M230.06 608.5v6.5M250.34 608.5v6.5M270.62 608.5v6.5M290.9 608.5v6.5M311.18 608.5v6.5M331.46 608.5v6.5M351.74 608.5v6.5M372.02 608.5v6.5M392.3 608.5v6.5M412.58 608.5v6.5M432.86 608.5v6.5M453.14 608.5v6.5M473.42 608.5v6.5M493.7 608.5v6.5M513.98 608.5v6.5M534.26 608.5v6.5M554.54 608.5v6.5M574.82 608.5v6.5M595.1 608.5v6.5M615.38 608.5v6.5M635.66 608.5v6.5M655.94 608.5v6.5M676.22 608.5v6.5M696.5 608.5v6.5M716.78 608.5v6.5M737.06 608.5v6.5M757.34 608.5v6.5M777.62 608.5v6.5M797.9 608.5v6.5M818.18 608.5v6.5M838.46 608.5v6.5M858.74 608.5v6.5M879.02 608.5v6.5" stroke="#1c1c1c" stroke-width="1.4" fill="none"/>
<text transform="translate(71.8 616.91) scale(0.9 1)" font-size="23.3" text-anchor="end">0</text>
<text transform="translate(71.8 580.31) scale(0.9 1)" font-size="23.3" text-anchor="end">20</text>
<text transform="translate(71.8 543.71) scale(0.9 1)" font-size="23.3" text-anchor="end">40</text>
<text transform="translate(71.8 507.11) scale(0.9 1)" font-size="23.3" text-anchor="end">60</text>
<text transform="translate(71.8 470.51) scale(0.9 1)" font-size="23.3" text-anchor="end">80</text>
<text transform="translate(71.8 433.91) scale(0.9 1)" font-size="23.3" text-anchor="end">100</text>
<text transform="translate(71.8 397.31) scale(0.9 1)" font-size="23.3" text-anchor="end">120</text>
<text transform="translate(94.1 633) scale(0.9 1) rotate(-45)" font-size="17.5" text-anchor="end" fill="#4e4e4e">DMSO</text>
<text transform="translate(114.38 633) scale(0.9 1) rotate(-45)" font-size="17.5" text-anchor="end" fill="#4e4e4e">5%DMSO</text>
<text transform="translate(134.66 633) scale(0.9 1) rotate(-45)" font-size="17.5" text-anchor="end" fill="#4e4e4e">A5</text>
<text transform="translate(154.94 633) scale(0.9 1) rotate(-45)" font-size="17.5" text-anchor="end" fill="#4e4e4e">A7</text>
<text transform="translate(175.22 633) scale(0.9 1) rotate(-45)" font-size="17.5" text-anchor="end" fill="#4e4e4e">K2</text>
<text transform="translate(195.5 633) scale(0.9 1) rotate(-45)" font-size="17.5" text-anchor="end" fill="#4e4e4e">K6</text>
<text transform="translate(215.78 633) scale(0.9 1) rotate(-45)" font-size="17.5" text-anchor="end" fill="#4e4e4e">K9</text>
<text transform="translate(236.06 633) scale(0.9 1) rotate(-45)" font-size="17.5" text-anchor="end" fill="#4e4e4e">K10</text>
<text transform="translate(256.34 633) scale(0.9 1) rotate(-45)" font-size="17.5" text-anchor="end" fill="#4e4e4e">K11</text>
<text transform="translate(276.62 633) scale(0.9 1) rotate(-45)" font-size="17.5" text-anchor="end" fill="#4e4e4e">K12</text>
<text transform="translate(296.9 633) scale(0.9 1) rotate(-45)" font-size="17.5" text-anchor="end" fill="#4e4e4e">K13</text>
<text transform="translate(317.18 633) scale(0.9 1) rotate(-45)" font-size="17.5" text-anchor="end" fill="#4e4e4e">K24</text>
<text transform="translate(337.46 633) scale(0.9 1) rotate(-45)" font-size="17.5" text-anchor="end" fill="#4e4e4e">M1</text>
<text transform="translate(357.74 633) scale(0.9 1) rotate(-45)" font-size="17.5" text-anchor="end" fill="#4e4e4e">M4</text>
<text transform="translate(378.02 633) scale(0.9 1) rotate(-45)" font-size="17.5" text-anchor="end" fill="#4e4e4e">M5</text>
<text transform="translate(398.3 633) scale(0.9 1) rotate(-45)" font-size="17.5" text-anchor="end" fill="#4e4e4e">M8</text>
<text transform="translate(418.58 633) scale(0.9 1) rotate(-45)" font-size="17.5" text-anchor="end" fill="#4e4e4e">M9</text>
<text transform="translate(438.86 633) scale(0.9 1) rotate(-45)" font-size="17.5" text-anchor="end" fill="#4e4e4e">M19</text>
<text transform="translate(459.14 633) scale(0.9 1) rotate(-45)" font-size="17.5" text-anchor="end" fill="#4e4e4e">M22</text>
<text transform="translate(479.42 633) scale(0.9 1) rotate(-45)" font-size="17.5" text-anchor="end" fill="#4e4e4e">M24</text>
<text transform="translate(499.7 633) scale(0.9 1) rotate(-45)" font-size="17.5" text-anchor="end" fill="#4e4e4e">M26</text>
<text transform="translate(519.98 633) scale(0.9 1) rotate(-45)" font-size="17.5" text-anchor="end" fill="#4e4e4e">M31</text>
<text transform="translate(540.26 633) scale(0.9 1) rotate(-45)" font-size="17.5" text-anchor="end" fill="#4e4e4e">M33</text>
<text transform="translate(560.54 633) scale(0.9 1) rotate(-45)" font-size="17.5" text-anchor="end" fill="#4e4e4e">M36</text>
<text transform="translate(580.82 633) scale(0.9 1) rotate(-45)" font-size="17.5" text-anchor="end" fill="#4e4e4e">M38</text>
<text transform="translate(601.1 633) scale(0.9 1) rotate(-45)" font-size="17.5" text-anchor="end" fill="#4e4e4e">M39</text>
<text transform="translate(621.38 633) scale(0.9 1) rotate(-45)" font-size="17.5" text-anchor="end" fill="#4e4e4e">M40</text>
<text transform="translate(641.66 633) scale(0.9 1) rotate(-45)" font-size="17.5" text-anchor="end" fill="#4e4e4e">M45</text>
<text transform="translate(661.94 633) scale(0.9 1) rotate(-45)" font-size="17.5" text-anchor="end" fill="#4e4e4e">M48</text>
<text transform="translate(682.22 633) scale(0.9 1) rotate(-45)" font-size="17.5" text-anchor="end" fill="#4e4e4e">M50</text>
<text transform="translate(702.5 633) scale(0.9 1) rotate(-45)" font-size="17.5" text-anchor="end" fill="#4e4e4e">M52</text>
<text transform="translate(722.78 633) scale(0.9 1) rotate(-45)" font-size="17.5" text-anchor="end" fill="#4e4e4e">M53</text>
<text transform="translate(743.06 633) scale(0.9 1) rotate(-45)" font-size="17.5" text-anchor="end" fill="#4e4e4e">M75</text>
<text transform="translate(763.34 633) scale(0.9 1) rotate(-45)" font-size="17.5" text-anchor="end" fill="#4e4e4e">M79</text>
<text transform="translate(783.62 633) scale(0.9 1) rotate(-45)" font-size="17.5" text-anchor="end" fill="#4e4e4e">M80</text>
<text transform="translate(803.9 633) scale(0.9 1) rotate(-45)" font-size="17.5" text-anchor="end" fill="#4e4e4e">M81</text>
<text transform="translate(824.18 633) scale(0.9 1) rotate(-45)" font-size="17.5" text-anchor="end" fill="#4e4e4e">M85</text>
<text transform="translate(844.46 633) scale(0.9 1) rotate(-45)" font-size="17.5" text-anchor="end" fill="#4e4e4e">M87</text>
<text transform="translate(864.74 633) scale(0.9 1) rotate(-45)" font-size="17.5" text-anchor="end" fill="#4e4e4e">M90</text>
<text transform="translate(885.02 633) scale(0.9 1) rotate(-45)" font-size="17.5" text-anchor="end" fill="#4e4e4e">N4</text>
<text transform="translate(24 497) rotate(-90)" font-size="24" text-anchor="middle">% Viability</text>
<text transform="translate(472 696.3) scale(0.97 1)" font-size="20.62" text-anchor="middle" fill="#383838">Molecule ID</text>
<text transform="translate(467.5 388.3) scale(0.97 1)" font-size="21.34" text-anchor="middle" fill="#383838">Non-toxic Molecules at 2.5uM</text>
</g>
<g>
<path d="M77.9 810.5V808M73.9 808H81.9" stroke="#000" stroke-width="2.1" fill="none"/>
<path d="M71.65 967.2V810.5H84.15V967.2" fill="url(#dots)"/>
<path d="M96.48 965.6V964M92.48 964H100.48" stroke="#000" stroke-width="2.1" fill="none"/>
<path d="M90.23 967.2V965.6H102.73V967.2" fill="#111"/>
<path d="M115.06 823.3V814M111.06 814H119.06" stroke="#000" stroke-width="2.1" fill="none"/>
<path d="M108.81 967.2V823.3H121.31V967.2" fill="url(#dots)"/>
<path d="M133.64 817.3V814.3M129.64 814.3H137.64" stroke="#000" stroke-width="2.1" fill="none"/>
<path d="M127.39 967.2V817.3H139.89V967.2" fill="url(#dots)"/>
<path d="M152.22 783.1V774M148.22 774H156.22" stroke="#000" stroke-width="2.1" fill="none"/>
<path d="M145.97 967.2V783.1H158.47V967.2" fill="url(#dots)"/>
<path d="M170.8 816.5V811M166.8 811H174.8" stroke="#000" stroke-width="2.1" fill="none"/>
<path d="M164.55 967.2V816.5H177.05V967.2" fill="url(#dots)"/>
<path d="M189.38 813.9V808M185.38 808H193.38" stroke="#000" stroke-width="2.1" fill="none"/>
<path d="M183.13 967.2V813.9H195.63V967.2" fill="url(#dots)"/>
<path d="M207.96 814.8V805.9M203.96 805.9H211.96" stroke="#000" stroke-width="2.1" fill="none"/>
<path d="M201.71 967.2V814.8H214.21V967.2" fill="url(#dots)"/>
<path d="M226.54 825V818.2M222.54 818.2H230.54" stroke="#000" stroke-width="2.1" fill="none"/>
<path d="M220.29 967.2V825H232.79V967.2" fill="url(#dots)"/>
<path d="M245.12 826.8V820.8M241.12 820.8H249.12" stroke="#000" stroke-width="2.1" fill="none"/>
<path d="M238.87 967.2V826.8H251.37V967.2" fill="url(#dots)"/>
<path d="M263.7 823.3V812.2M259.7 812.2H267.7" stroke="#000" stroke-width="2.1" fill="none"/>
<path d="M257.45 967.2V823.3H269.95V967.2" fill="url(#dots)"/>
<path d="M282.28 825.6V819.1M278.28 819.1H286.28" stroke="#000" stroke-width="2.1" fill="none"/>
<path d="M276.03 967.2V825.6H288.53V967.2" fill="url(#dots)"/>
<path d="M300.86 793.3V782.3M296.86 782.3H304.86" stroke="#000" stroke-width="2.1" fill="none"/>
<path d="M294.61 967.2V793.3H307.11V967.2" fill="url(#dots)"/>
<path d="M319.44 789.6V771.6M315.44 771.6H323.44" stroke="#000" stroke-width="2.1" fill="none"/>
<path d="M313.19 967.2V789.6H325.69V967.2" fill="url(#dots)"/>
<path d="M338.02 826.8V823.8M334.02 823.8H342.02" stroke="#000" stroke-width="2.1" fill="none"/>
<path d="M331.77 967.2V826.8H344.27V967.2" fill="url(#dots)"/>
<path d="M356.6 813.9V799.7M352.6 799.7H360.6" stroke="#000" stroke-width="2.1" fill="none"/>
<path d="M350.35 967.2V813.9H362.85V967.2" fill="url(#dots)"/>
<path d="M375.18 811.3V799M371.18 799H379.18" stroke="#000" stroke-width="2.1" fill="none"/>
<path d="M368.93 967.2V811.3H381.43V967.2" fill="url(#dots)"/>
<path d="M393.76 825.6V816M389.76 816H397.76" stroke="#000" stroke-width="2.1" fill="none"/>
<path d="M387.51 967.2V825.6H400.01V967.2" fill="url(#dots)"/>
<path d="M412.34 810.8V802M408.34 802H416.34" stroke="#000" stroke-width="2.1" fill="none"/>
<path d="M406.09 967.2V810.8H418.59V967.2" fill="url(#dots)"/>
<path d="M430.92 821.6V818.2M426.92 818.2H434.92" stroke="#000" stroke-width="2.1" fill="none"/>
<path d="M424.67 967.2V821.6H437.17V967.2" fill="url(#dots)"/>
<path d="M468.08 825V822M464.08 822H472.08" stroke="#000" stroke-width="2.1" fill="none"/>
<path d="M461.83 967.2V825H474.33V967.2" fill="url(#dots)"/>
<path d="M486.66 809.1V806.2M482.66 806.2H490.66" stroke="#000" stroke-width="2.1" fill="none"/>
<path d="M480.41 967.2V809.1H492.91V967.2" fill="url(#dots)"/>
<path d="M505.24 810.8V807.8M501.24 807.8H509.24" stroke="#000" stroke-width="2.1" fill="none"/>
<path d="M498.99 967.2V810.8H511.49V967.2" fill="url(#dots)"/>
<path d="M523.82 825.3V822M519.82 822H527.82" stroke="#000" stroke-width="2.1" fill="none"/>
<path d="M517.57 967.2V825.3H530.07V967.2" fill="url(#dots)"/>
<path d="M542.4 809.9V805.7M538.4 805.7H546.4" stroke="#000" stroke-width="2.1" fill="none"/>
<path d="M536.15 967.2V809.9H548.65V967.2" fill="url(#dots)"/>
<path d="M560.98 816.8V812M556.98 812H564.98" stroke="#000" stroke-width="2.1" fill="none"/>
<path d="M554.73 967.2V816.8H567.23V967.2" fill="url(#dots)"/>
<path d="M579.56 823.6V820.7M575.56 820.7H583.56" stroke="#000" stroke-width="2.1" fill="none"/>
<path d="M573.31 967.2V823.6H585.81V967.2" fill="url(#dots)"/>
<path d="M598.14 825.7V814.8M594.14 814.8H602.14" stroke="#000" stroke-width="2.1" fill="none"/>
<path d="M591.89 967.2V825.7H604.39V967.2" fill="url(#dots)"/>
<path d="M616.72 812.5V807.1M612.72 807.1H620.72" stroke="#000" stroke-width="2.1" fill="none"/>
<path d="M610.47 967.2V812.5H622.97V967.2" fill="url(#dots)"/>
<path d="M653.88 835.1V822.8M649.88 822.8H657.88" stroke="#000" stroke-width="2.1" fill="none"/>
<path d="M647.63 967.2V835.1H660.13V967.2" fill="url(#dots)"/>
<path d="M672.46 821.9V805M668.46 805H676.46" stroke="#000" stroke-width="2.1" fill="none"/>
<path d="M666.21 967.2V821.9H678.71V967.2" fill="url(#dots)"/>
<path d="M691.04 818.5V801.9M687.04 801.9H695.04" stroke="#000" stroke-width="2.1" fill="none"/>
<path d="M684.79 967.2V818.5H697.29V967.2" fill="url(#dots)"/>
<path d="M709.62 835.1V828.8M705.62 828.8H713.62" stroke="#000" stroke-width="2.1" fill="none"/>
<path d="M703.37 967.2V835.1H715.87V967.2" fill="url(#dots)"/>
<path d="M728.2 826.7V815.5M724.2 815.5H732.2" stroke="#000" stroke-width="2.1" fill="none"/>
<path d="M721.95 967.2V826.7H734.45V967.2" fill="url(#dots)"/>
<path d="M746.78 804.8V802M742.78 802H750.78" stroke="#000" stroke-width="2.1" fill="none"/>
<path d="M740.53 967.2V804.8H753.03V967.2" fill="url(#dots)"/>
<line x1="69" x2="733.5" y1="835.3" y2="835.3" stroke="#e23c55" stroke-opacity="0.92" stroke-width="1.9" stroke-dasharray="6.8 3.2"/>
<path d="M71.65 967.2V810.5H84.15V967.2" fill="none" stroke="#000" stroke-width="2.4"/>
<path d="M90.23 967.2V965.6H102.73V967.2" fill="none" stroke="#000" stroke-width="2.4"/>
<path d="M108.81 967.2V823.3H121.31V967.2" fill="none" stroke="#000" stroke-width="2.4"/>
<path d="M127.39 967.2V817.3H139.89V967.2" fill="none" stroke="#000" stroke-width="2.4"/>
<path d="M145.97 967.2V783.1H158.47V967.2" fill="none" stroke="#000" stroke-width="2.4"/>
<path d="M164.55 967.2V816.5H177.05V967.2" fill="none" stroke="#000" stroke-width="2.4"/>
<path d="M183.13 967.2V813.9H195.63V967.2" fill="none" stroke="#000" stroke-width="2.4"/>
<path d="M201.71 967.2V814.8H214.21V967.2" fill="none" stroke="#000" stroke-width="2.4"/>
<path d="M220.29 967.2V825H232.79V967.2" fill="none" stroke="#000" stroke-width="2.4"/>
<path d="M238.87 967.2V826.8H251.37V967.2" fill="none" stroke="#000" stroke-width="2.4"/>
<path d="M257.45 967.2V823.3H269.95V967.2" fill="none" stroke="#000" stroke-width="2.4"/>
<path d="M276.03 967.2V825.6H288.53V967.2" fill="none" stroke="#000" stroke-width="2.4"/>
<path d="M294.61 967.2V793.3H307.11V967.2" fill="none" stroke="#000" stroke-width="2.4"/>
<path d="M313.19 967.2V789.6H325.69V967.2" fill="none" stroke="#000" stroke-width="2.4"/>
<path d="M331.77 967.2V826.8H344.27V967.2" fill="none" stroke="#000" stroke-width="2.4"/>
<path d="M350.35 967.2V813.9H362.85V967.2" fill="none" stroke="#000" stroke-width="2.4"/>
<path d="M368.93 967.2V811.3H381.43V967.2" fill="none" stroke="#000" stroke-width="2.4"/>
<path d="M387.51 967.2V825.6H400.01V967.2" fill="none" stroke="#000" stroke-width="2.4"/>
<path d="M406.09 967.2V810.8H418.59V967.2" fill="none" stroke="#000" stroke-width="2.4"/>
<path d="M424.67 967.2V821.6H437.17V967.2" fill="none" stroke="#000" stroke-width="2.4"/>
<path d="M461.83 967.2V825H474.33V967.2" fill="none" stroke="#000" stroke-width="2.4"/>
<path d="M480.41 967.2V809.1H492.91V967.2" fill="none" stroke="#000" stroke-width="2.4"/>
<path d="M498.99 967.2V810.8H511.49V967.2" fill="none" stroke="#000" stroke-width="2.4"/>
<path d="M517.57 967.2V825.3H530.07V967.2" fill="none" stroke="#000" stroke-width="2.4"/>
<path d="M536.15 967.2V809.9H548.65V967.2" fill="none" stroke="#000" stroke-width="2.4"/>
<path d="M554.73 967.2V816.8H567.23V967.2" fill="none" stroke="#000" stroke-width="2.4"/>
<path d="M573.31 967.2V823.6H585.81V967.2" fill="none" stroke="#000" stroke-width="2.4"/>
<path d="M591.89 967.2V825.7H604.39V967.2" fill="none" stroke="#000" stroke-width="2.4"/>
<path d="M610.47 967.2V812.5H622.97V967.2" fill="none" stroke="#000" stroke-width="2.4"/>
<path d="M647.63 967.2V835.1H660.13V967.2" fill="none" stroke="#000" stroke-width="2.4"/>
<path d="M666.21 967.2V821.9H678.71V967.2" fill="none" stroke="#000" stroke-width="2.4"/>
<path d="M684.79 967.2V818.5H697.29V967.2" fill="none" stroke="#000" stroke-width="2.4"/>
<path d="M703.37 967.2V835.1H715.87V967.2" fill="none" stroke="#000" stroke-width="2.4"/>
<path d="M721.95 967.2V826.7H734.45V967.2" fill="none" stroke="#000" stroke-width="2.4"/>
<path d="M740.53 967.2V804.8H753.03V967.2" fill="none" stroke="#000" stroke-width="2.4"/>
<path d="M69 770.15V967.2" stroke="#1c1c1c" stroke-width="2.1" fill="none"/>
<path d="M63 936.55H68.15M63 905H68.15M63 873.44H68.15M63 841.89H68.15M63 810.34H68.15M63 778.79H68.15" stroke="#1c1c1c" stroke-width="1.7" fill="none"/>
<path d="M63 967.2H763" stroke="#1c1c1c" stroke-width="1.7" fill="none"/>
<path d="M77.9 967.2v6.5M96.48 967.2v6.5M115.06 967.2v6.5M133.64 967.2v6.5M152.22 967.2v6.5M170.8 967.2v6.5M189.38 967.2v6.5M207.96 967.2v6.5M226.54 967.2v6.5M245.12 967.2v6.5M263.7 967.2v6.5M282.28 967.2v6.5M300.86 967.2v6.5M319.44 967.2v6.5M338.02 967.2v6.5M356.6 967.2v6.5M375.18 967.2v6.5M393.76 967.2v6.5M412.34 967.2v6.5M430.92 967.2v6.5M449.5 967.2v6.5M468.08 967.2v6.5M486.66 967.2v6.5M505.24 967.2v6.5M523.82 967.2v6.5M542.4 967.2v6.5M560.98 967.2v6.5M579.56 967.2v6.5M598.14 967.2v6.5M616.72 967.2v6.5M635.3 967.2v6.5M653.88 967.2v6.5M672.46 967.2v6.5M691.04 967.2v6.5M709.62 967.2v6.5M728.2 967.2v6.5M746.78 967.2v6.5" stroke="#1c1c1c" stroke-width="1.7" fill="none"/>
<text transform="translate(61.4 975) scale(0.9 1)" font-size="19.7" text-anchor="end">0</text>
<text transform="translate(61.4 944.35) scale(0.9 1)" font-size="19.7" text-anchor="end">20</text>
<text transform="translate(61.4 912.8) scale(0.9 1)" font-size="19.7" text-anchor="end">40</text>
<text transform="translate(61.4 881.24) scale(0.9 1)" font-size="19.7" text-anchor="end">60</text>
<text transform="translate(61.4 849.69) scale(0.9 1)" font-size="19.7" text-anchor="end">80</text>
<text transform="translate(61.4 818.14) scale(0.9 1)" font-size="19.7" text-anchor="end">100</text>
<text transform="translate(61.4 786.59) scale(0.9 1)" font-size="19.7" text-anchor="end">120</text>
<text transform="translate(84.9 991.7) scale(0.9 1) rotate(-45)" font-size="20.5" text-anchor="end" fill="#4e4e4e">DMSO</text>
<text transform="translate(103.48 991.7) scale(0.9 1) rotate(-45)" font-size="20.5" text-anchor="end" fill="#4e4e4e">5% DMSO</text>
<text transform="translate(122.06 991.7) scale(0.9 1) rotate(-45)" font-size="20.5" text-anchor="end" fill="#4e4e4e">TW5</text>
<text transform="translate(140.64 991.7) scale(0.9 1) rotate(-45)" font-size="20.5" text-anchor="end" fill="#4e4e4e">TW9</text>
<text transform="translate(159.22 991.7) scale(0.9 1) rotate(-45)" font-size="20.5" text-anchor="end" fill="#4e4e4e">TW11</text>
<text transform="translate(177.8 991.7) scale(0.9 1) rotate(-45)" font-size="20.5" text-anchor="end" fill="#4e4e4e">TW12</text>
<text transform="translate(196.38 991.7) scale(0.9 1) rotate(-45)" font-size="20.5" text-anchor="end" fill="#4e4e4e">TW13</text>
<text transform="translate(214.96 991.7) scale(0.9 1) rotate(-45)" font-size="20.5" text-anchor="end" fill="#4e4e4e">TW14</text>
<text transform="translate(233.54 991.7) scale(0.9 1) rotate(-45)" font-size="20.5" text-anchor="end" fill="#4e4e4e">TW16</text>
<text transform="translate(252.12 991.7) scale(0.9 1) rotate(-45)" font-size="20.5" text-anchor="end" fill="#4e4e4e">TW17</text>
<text transform="translate(270.7 991.7) scale(0.9 1) rotate(-45)" font-size="20.5" text-anchor="end" fill="#4e4e4e">TW18</text>
<text transform="translate(289.28 991.7) scale(0.9 1) rotate(-45)" font-size="20.5" text-anchor="end" fill="#4e4e4e">TW20</text>
<text transform="translate(307.86 991.7) scale(0.9 1) rotate(-45)" font-size="20.5" text-anchor="end" fill="#4e4e4e">TW21</text>
<text transform="translate(326.44 991.7) scale(0.9 1) rotate(-45)" font-size="20.5" text-anchor="end" fill="#4e4e4e">TW23</text>
<text transform="translate(345.02 991.7) scale(0.9 1) rotate(-45)" font-size="20.5" text-anchor="end" fill="#4e4e4e">TW25</text>
<text transform="translate(363.6 991.7) scale(0.9 1) rotate(-45)" font-size="20.5" text-anchor="end" fill="#4e4e4e">TW27</text>
<text transform="translate(382.18 991.7) scale(0.9 1) rotate(-45)" font-size="20.5" text-anchor="end" fill="#4e4e4e">TW28</text>
<text transform="translate(400.76 991.7) scale(0.9 1) rotate(-45)" font-size="20.5" text-anchor="end" fill="#4e4e4e">TW29</text>
<text transform="translate(419.34 991.7) scale(0.9 1) rotate(-45)" font-size="20.5" text-anchor="end" fill="#4e4e4e">TW30</text>
<text transform="translate(437.92 991.7) scale(0.9 1) rotate(-45)" font-size="20.5" text-anchor="end" fill="#4e4e4e">TW32</text>
<text transform="translate(475.08 991.7) scale(0.9 1) rotate(-45)" font-size="20.5" text-anchor="end" fill="#4e4e4e">TW1</text>
<text transform="translate(493.66 991.7) scale(0.9 1) rotate(-45)" font-size="20.5" text-anchor="end" fill="#4e4e4e">TW3</text>
<text transform="translate(512.24 991.7) scale(0.9 1) rotate(-45)" font-size="20.5" text-anchor="end" fill="#4e4e4e">TW6</text>
<text transform="translate(530.82 991.7) scale(0.9 1) rotate(-45)" font-size="20.5" text-anchor="end" fill="#4e4e4e">TW7</text>
<text transform="translate(549.4 991.7) scale(0.9 1) rotate(-45)" font-size="20.5" text-anchor="end" fill="#4e4e4e">TW8</text>
<text transform="translate(567.98 991.7) scale(0.9 1) rotate(-45)" font-size="20.5" text-anchor="end" fill="#4e4e4e">TW10</text>
<text transform="translate(586.56 991.7) scale(0.9 1) rotate(-45)" font-size="20.5" text-anchor="end" fill="#4e4e4e">TW15</text>
<text transform="translate(605.14 991.7) scale(0.9 1) rotate(-45)" font-size="20.5" text-anchor="end" fill="#4e4e4e">TW24</text>
<text transform="translate(623.72 991.7) scale(0.9 1) rotate(-45)" font-size="20.5" text-anchor="end" fill="#4e4e4e">TW31</text>
<text transform="translate(660.88 991.7) scale(0.9 1) rotate(-45)" font-size="20.5" text-anchor="end" fill="#4e4e4e">TW2</text>
<text transform="translate(679.46 991.7) scale(0.9 1) rotate(-45)" font-size="20.5" text-anchor="end" fill="#4e4e4e">TW4</text>
<text transform="translate(698.04 991.7) scale(0.9 1) rotate(-45)" font-size="20.5" text-anchor="end" fill="#4e4e4e">TW10</text>
<text transform="translate(716.62 991.7) scale(0.9 1) rotate(-45)" font-size="20.5" text-anchor="end" fill="#4e4e4e">TW24</text>
<text transform="translate(735.2 991.7) scale(0.9 1) rotate(-45)" font-size="20.5" text-anchor="end" fill="#4e4e4e">TW26</text>
<text transform="translate(753.78 991.7) scale(0.9 1) rotate(-45)" font-size="20.5" text-anchor="end" fill="#4e4e4e">TW28</text>
<text transform="translate(21.3 865.8) rotate(-90)" font-size="22.7" text-anchor="middle">% Viability</text>
<text transform="translate(396 1051.3) scale(0.97 1)" font-size="22.68" text-anchor="middle" fill="#383838">Molecule ID</text>
<text transform="translate(252.5 749.3) scale(0.97 1)" font-size="22.68" text-anchor="middle" fill="#383838">Non-toxic Molecules at 20uM</text>
<text transform="translate(539.5 748.3) scale(0.97 1)" font-size="22.17" text-anchor="middle" fill="#383838">Non-toxic</text>
<text transform="translate(539.5 773.3) scale(0.97 1)" font-size="22.48" text-anchor="middle" fill="#383838">at 10uM</text>
<text transform="translate(697 740.8) scale(0.97 1)" font-size="22.27" text-anchor="middle" fill="#383838">Non-toxic</text>
<text transform="translate(697 766.8) scale(0.97 1)" font-size="22.48" text-anchor="middle" fill="#383838">at 2.5uM</text>
</g>
</g></g>
</svg>
</body></html>
